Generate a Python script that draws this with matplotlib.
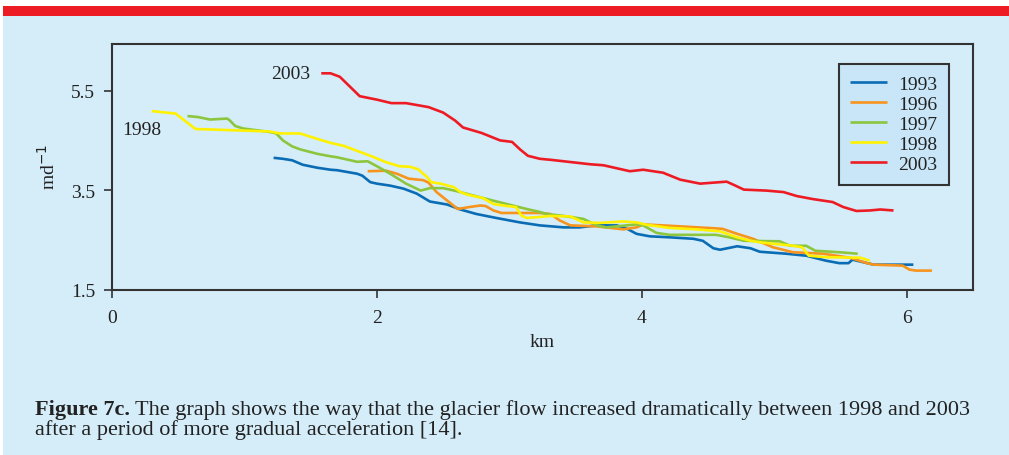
import matplotlib
matplotlib.use("Agg")
import matplotlib.pyplot as plt
import matplotlib.patches as patches

plt.rcParams['font.family'] = ['Liberation Serif', 'DejaVu Serif']

# distance along glacier (km) and flow speed (m/d)
km_1993 = [1.22, 1.29, 1.36, 1.44, 1.55, 1.65, 1.70, 1.85, 1.89, 1.95, 2.00, 2.10, 2.20, 2.30,
           2.40, 2.53, 2.63, 2.75, 2.90, 3.08, 3.23, 3.41, 3.53, 3.66, 3.81, 3.89, 3.96, 4.06,
           4.21, 4.39, 4.46, 4.54, 4.59, 4.72, 4.82, 4.89, 5.09, 5.24, 5.39, 5.49, 5.56, 5.59,
           5.75, 6.05]
v_1993 = [4.15, 4.13, 4.10, 4.01, 3.95, 3.91, 3.90, 3.83, 3.79, 3.66, 3.63, 3.59, 3.53, 3.43,
          3.27, 3.21, 3.11, 3.02, 2.94, 2.85, 2.79, 2.75, 2.75, 2.79, 2.79, 2.72, 2.62, 2.57,
          2.55, 2.52, 2.48, 2.33, 2.30, 2.37, 2.33, 2.26, 2.22, 2.18, 2.08, 2.03, 2.03, 2.10,
          2.00, 2.00]

km_1996 = [1.93, 2.07, 2.15, 2.24, 2.35, 2.39, 2.45, 2.53, 2.61, 2.70, 2.78, 2.82, 2.88, 2.94,
           3.23, 3.31, 3.38, 3.46, 3.66, 3.86, 3.96, 4.01, 4.16, 4.56, 4.61, 4.72, 4.84, 4.99,
           5.14, 5.37, 5.57, 5.70, 5.75, 5.97, 6.02, 6.07, 6.19]
v_1996 = [3.88, 3.89, 3.83, 3.73, 3.70, 3.65, 3.46, 3.29, 3.12, 3.16, 3.19, 3.18, 3.09, 3.04,
          3.04, 3.02, 2.89, 2.79, 2.77, 2.71, 2.75, 2.81, 2.79, 2.73, 2.72, 2.62, 2.52, 2.35,
          2.25, 2.22, 2.14, 2.03, 2.00, 1.98, 1.90, 1.88, 1.88]

km_1997 = [0.57, 0.65, 0.74, 0.87, 0.89, 0.93, 0.99, 1.19, 1.24, 1.29, 1.36, 1.42, 1.55, 1.65,
           1.70, 1.85, 1.93, 2.00, 2.10, 2.22, 2.33, 2.40, 2.50, 2.60, 2.70, 2.83, 2.98, 3.13,
           3.23, 3.28, 3.41, 3.56, 3.66, 3.73, 3.96, 4.01, 4.11, 4.21, 4.56, 4.66, 4.77, 5.04,
           5.12, 5.24, 5.31, 5.49, 5.63]
v_1997 = [4.99, 4.97, 4.92, 4.94, 4.90, 4.79, 4.74, 4.67, 4.64, 4.50, 4.38, 4.32, 4.23, 4.18,
          4.16, 4.07, 4.08, 3.98, 3.83, 3.63, 3.49, 3.54, 3.54, 3.48, 3.41, 3.32, 3.22, 3.12,
          3.06, 3.02, 2.98, 2.92, 2.79, 2.75, 2.81, 2.79, 2.64, 2.60, 2.60, 2.55, 2.48, 2.47,
          2.38, 2.38, 2.28, 2.25, 2.22]

km_1998 = [0.30, 0.48, 0.63, 1.19, 1.27, 1.42, 1.55, 1.65, 1.75, 1.82, 1.95, 2.07, 2.17, 2.25,
           2.31, 2.38, 2.41, 2.48, 2.58, 2.63, 2.68, 2.80, 2.88, 2.98, 3.05, 3.09, 3.13, 3.23,
           3.31, 3.46, 3.56, 3.68, 3.86, 3.96, 4.04, 4.21, 4.41, 4.59, 4.72, 4.82, 4.89, 5.14,
           5.21, 5.26, 5.39, 5.65, 5.72]
v_1998 = [5.09, 5.04, 4.73, 4.68, 4.64, 4.64, 4.53, 4.45, 4.39, 4.32, 4.19, 4.06, 3.98, 3.97,
          3.92, 3.76, 3.66, 3.63, 3.56, 3.46, 3.41, 3.34, 3.22, 3.18, 3.16, 2.99, 2.94, 2.96,
          2.98, 2.97, 2.85, 2.84, 2.87, 2.85, 2.80, 2.74, 2.71, 2.67, 2.55, 2.48, 2.45, 2.38,
          2.35, 2.18, 2.15, 2.14, 2.08]

km_2003 = [1.58, 1.65, 1.72, 1.87, 2.00, 2.11, 2.22, 2.39, 2.50, 2.59, 2.65, 2.79, 2.93, 3.02,
           3.08, 3.14, 3.23, 3.31, 3.61, 3.71, 3.91, 4.01, 4.16, 4.29, 4.44, 4.64, 4.69, 4.77,
           4.94, 5.07, 5.17, 5.29, 5.44, 5.52, 5.62, 5.72, 5.80, 5.90]
v_2003 = [5.85, 5.85, 5.78, 5.39, 5.32, 5.25, 5.25, 5.17, 5.06, 4.90, 4.76, 4.65, 4.50, 4.47,
          4.32, 4.19, 4.13, 4.11, 4.02, 4.00, 3.88, 3.91, 3.85, 3.71, 3.63, 3.67, 3.61, 3.51,
          3.49, 3.46, 3.38, 3.32, 3.26, 3.16, 3.08, 3.09, 3.11, 3.09]

years = ['1993', '1996', '1997', '1998', '2003']
colors = ['#0a6cb4', '#f7941d', '#8cc63f', '#fff200', '#ed1c24']
series = [(km_1993, v_1993), (km_1996, v_1996), (km_1997, v_1997),
          (km_1998, v_1998), (km_2003, v_2003)]

bg = '#d5edf9'
ink = '#222222'
fig = plt.figure(figsize=(10.09, 4.56), dpi=100)
fig.patch.set_facecolor('white')

# panel background and red bar at top
fig.patches.append(patches.Rectangle((3 / 1009, 0), 1, 439 / 456, transform=fig.transFigure,
                                     facecolor=bg, edgecolor='none', zorder=-2))
fig.patches.append(patches.Rectangle((3 / 1009, 439 / 456), 1, 10 / 456, transform=fig.transFigure,
                                     facecolor='#ed1c24', edgecolor='none', zorder=-1))

ax = fig.add_axes([112 / 1009, 1 - 290.5 / 456, 861 / 1009, 246 / 456])
ax.set_facecolor(bg)

for (x, y), c, lab in zip(series, colors, years):
    ax.plot(x, y, color=c, lw=1.9, label=lab, solid_capstyle='butt')

ax.set_xlim(0, 6.5)
ax.set_ylim(1.5, 6.45)
ax.set_xticks([0, 2, 4, 6])
ax.set_yticks([1.5, 3.5, 5.5])
ax.set_yticklabels(['1.5', '3.5', '5.5'])
ax.tick_params(direction='out', length=6, width=1.2, colors='#333333',
               labelsize=14, labelcolor=ink)
ax.tick_params(axis='y', pad=6)
ax.tick_params(axis='x', pad=8)
for s in ax.spines.values():
    s.set_color('#333333')
    s.set_linewidth(1.5)

ax.set_xlabel('km', fontsize=14, color=ink, labelpad=5)
ax.set_ylabel('md$^{-1}$', fontsize=14, color=ink, labelpad=9)

ax.text(1.5, 5.85, '2003', fontsize=14, color=ink, ha='right', va='center')
ax.text(0.08, 4.72, '1998', fontsize=14, color=ink, ha='left', va='center')

leg = ax.legend(loc='upper right', bbox_to_anchor=(0.972, 0.917), fontsize=14, frameon=True,
                fancybox=False, handlelength=1.9, handletextpad=0.55, labelspacing=0.12,
                borderpad=0.6, borderaxespad=0)
leg.get_frame().set_facecolor('#c8e6f7')
leg.get_frame().set_edgecolor('#333333')
leg.get_frame().set_linewidth(1.5)
leg.get_frame().set_alpha(1)
for t in leg.get_texts():
    t.set_color(ink)

# caption
cap_y1 = 1 - 415 / 456
cap_y2 = 1 - 435 / 456
head = fig.text(35 / 1009, cap_y1, 'Figure 7c.', fontsize=16, fontweight='bold',
                color=ink, va='baseline')
fig.canvas.draw()
bb = head.get_window_extent().transformed(fig.transFigure.inverted())
fig.text(bb.x1 + 5 / 1009, cap_y1,
         'The graph shows the way that the glacier flow increased dramatically between 1998 and 2003',
         fontsize=16, color=ink, va='baseline')
fig.text(35 / 1009, cap_y2, 'after a period of more gradual acceleration [14].',
         fontsize=16, color=ink, va='baseline')

fig.savefig('out.png', dpi=100, facecolor=fig.get_facecolor())
